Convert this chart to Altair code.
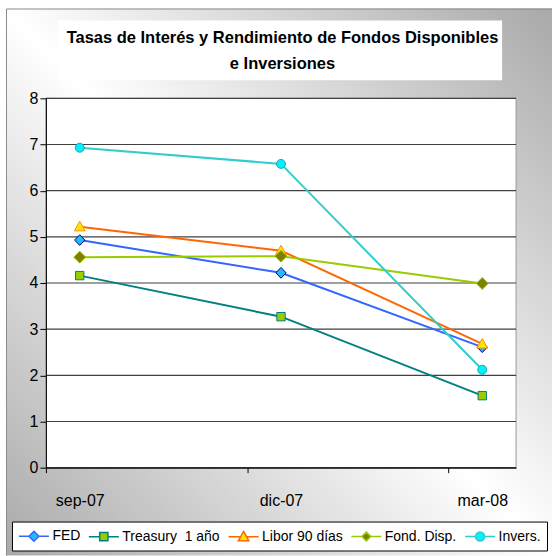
import altair as alt
import pandas as pd

# ---- data ----
DATES = ["sep-07", "dic-07", "mar-08"]
SERIES = ["FED", "Treasury\u00a0 1 año", "Libor 90 días", "Fond. Disp.", "Invers."]
FED = [4.93, 4.22, 2.61]
TREASURY = [4.16, 3.27, 1.56]
LIBOR = [5.22, 4.70, 2.68]
FOND = [4.56, 4.58, 3.99]
INVERS = [6.93, 6.58, 2.12]
Y_TICKS = [0, 1, 2, 3, 4, 5, 6, 7, 8]
TITLE_LINES = ["Tasas de Interés y Rendimiento de Fondos Disponibles", "e Inversiones"]

# ---- styles ----
LINE_COLORS = ["#3366FF", "#008080", "#FF6600", "#99CC00", "#33CCCC"]
MARKER_STROKES = ["#000080", "#008080", "#FF8C00", "#99CC00", "#1FA8A8"]
FILL_COLORS = ["#22BBF5", "#99CC00", "#FFE600", "#808000", "#00F0FF"]
SHAPES = [
    "M0,-0.36L0.34,0L0,0.36L-0.34,0Z",
    "M-0.28,-0.28H0.28V0.28H-0.28Z",
    "M0,-0.36L0.36,0.28H-0.36Z",
    "M0,-0.4L0.4,0L0,0.4L-0.4,0Z",
    "M0.3,0A0.3,0.3,0,1,1,-0.3,0A0.3,0.3,0,1,1,0.3,0Z",
]
LEG_SHAPES = [
    "M-2,0H-0.67M0.67,0H2M0,-0.67L0.67,0L0,0.67L-0.67,0Z",
    "M-2,0H-0.55M0.55,0H2M-0.55,-0.55H0.55V0.55H-0.55Z",
    "M-2,0H-0.37M0.37,0H2M0,-0.7L0.7,0.55H-0.7Z",
    "M-2,0H-0.6M0.6,0H2M0,-0.6L0.6,0L0,0.6L-0.6,0Z",
    "M-2,0H-0.6M0.6,0H2M0.6,0A0.6,0.6,0,1,1,-0.6,0A0.6,0.6,0,1,1,0.6,0Z",
]
FONT = "Liberation Sans, Arial, sans-serif"
W, H = 471, 370

rows = []
for name, vals in zip(SERIES, [FED, TREASURY, LIBOR, FOND, INVERS]):
    for d, v in zip(DATES, vals):
        rows.append({"fecha": d, "serie": name, "valor": v})
df = pd.DataFrame(rows)

one = alt.Data(values=[{}])

x_enc = alt.X(
    "fecha:N",
    sort=DATES,
    scale=alt.Scale(type="point", domain=DATES, padding=0.168),
    axis=alt.Axis(
        title=None, labelAngle=0, labelFont=FONT, labelFontSize=16, labelColor="#000",
        domainColor="#000", tickColor="#000", tickSize=5, labelPadding=20,
        tickOffset=-34, labelOffset=34, grid=False, zindex=1,
    ),
)
y_axis = alt.Axis(
    title=None, values=Y_TICKS, grid=False, labelFont=FONT, labelFontSize=16,
    labelColor="#000", tickSize=6, tickColor="#000", domainColor="#000",
    labelPadding=2, zindex=1,
)
y_enc = alt.Y("valor:Q", scale=alt.Scale(domain=[0, 8], nice=False, zero=True), axis=y_axis)

legend = alt.Legend(
    title=None, orient="none", legendX=-34, legendY=424, direction="horizontal",
    labelFont=FONT, labelFontSize=14, labelColor="#000",
    symbolSize=225, symbolStrokeWidth=1.5, symbolOffset=7.5, labelOffset=10,
    symbolOpacity=1, columnPadding=5, padding=6,
    fillColor="white", strokeColor="#000",
)

line_scale = alt.Scale(domain=SERIES, range=LINE_COLORS)
marker_stroke_scale = alt.Scale(domain=SERIES, range=MARKER_STROKES)
fill_scale = alt.Scale(domain=SERIES, range=FILL_COLORS)

bg = alt.Chart(one).mark_rect(
    fill=alt.Gradient(
        gradient="linear",
        stops=[
            alt.GradientStop(color="#a9a9a9", offset=0),
            alt.GradientStop(color="#ffffff", offset=0.5),
            alt.GradientStop(color="#a9a9a9", offset=1),
        ],
        x1=0, y1=1, x2=1, y2=0,
    )
).encode(x=alt.value(-40), x2=alt.value(507), y=alt.value(-90), y2=alt.value(458))

frame_l = alt.Chart(one).mark_rule(color="#8c8c8c", strokeWidth=1).encode(
    x=alt.value(-39.5), y=alt.value(-89.5), y2=alt.value(458)
)
frame_t = alt.Chart(one).mark_rule(color="#8c8c8c", strokeWidth=1).encode(
    x=alt.value(-39.5), x2=alt.value(507), y=alt.value(-89.5)
)
title_box = alt.Chart(one).mark_rect(fill="white").encode(
    x=alt.value(12), x2=alt.value(457), y=alt.value(-78), y2=alt.value(-18)
)
title_text = alt.Chart(one).mark_text(
    font=FONT, fontSize=16.5, fontWeight="bold", align="center",
    baseline="alphabetic", lineHeight=26, color="#000",
).encode(x=alt.value(237), y=alt.value(-55), text=alt.value(TITLE_LINES))

plot_rect = alt.Chart(one).mark_rect(fill="white", stroke="#9a9a9a", strokeWidth=1).encode(
    x=alt.value(0), x2=alt.value(W), y=alt.value(0), y2=alt.value(H)
)
grid = alt.Chart(alt.Data(values=[{"valor": t} for t in Y_TICKS])).mark_rule(
    color="#404040", strokeWidth=1.2
).encode(y=y_enc)

lines = alt.Chart(df).mark_line(strokeWidth=2).encode(
    x=x_enc, y=y_enc,
    stroke=alt.Stroke("serie:N", scale=line_scale, legend=None),
)
points = alt.Chart(df).mark_point(filled=True, opacity=1, size=900, strokeWidth=1).encode(
    x=x_enc, y=y_enc,
    stroke=alt.Stroke("serie:N", scale=marker_stroke_scale, legend=None),
    fill=alt.Fill("serie:N", scale=fill_scale, legend=None),
    shape=alt.Shape("serie:N", scale=alt.Scale(domain=SERIES, range=SHAPES), legend=None),
)
# invisible layer that only carries the legend (line + marker symbols)
legend_layer = alt.Chart(df).mark_point(filled=True, opacity=0, size=225, strokeWidth=1.5).encode(
    x=x_enc, y=y_enc,
    stroke=alt.Stroke("serie:N", scale=line_scale, legend=legend),
    fill=alt.Fill("serie:N", scale=fill_scale, legend=legend),
    shape=alt.Shape("serie:N", scale=alt.Scale(domain=SERIES, range=LEG_SHAPES), legend=legend),
)

chart = (
    alt.layer(bg, frame_l, frame_t, title_box, title_text, plot_rect, grid, lines, points, legend_layer)
    .resolve_scale(shape="independent", stroke="independent")
    .resolve_legend(stroke="independent", fill="independent", shape="independent")
    .properties(
        width=W, height=H, background="white",
        padding={"left": 6, "top": 8, "right": 0, "bottom": 0},
    )
    .configure_view(stroke=None)
)

chart.save("out.html", embed_options={"renderer": "svg", "actions": False})
